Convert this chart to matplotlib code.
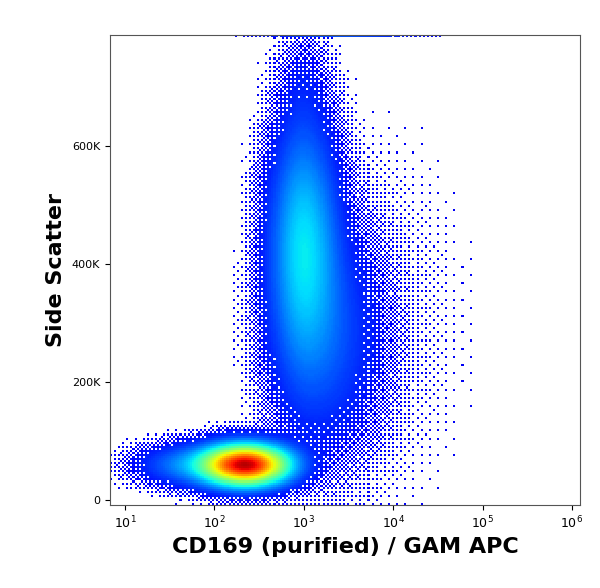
import numpy as np
import matplotlib
matplotlib.use("Agg")
import matplotlib.pyplot as plt
from matplotlib.colors import ListedColormap

# population parameters: (log10 x centre, y centre, log sd, y sd, weight)
pop_logx = [2.35, 3.0, 3.25, 1.8, 3.9, 3.0]
pop_y = [60e3, 430e3, 280e3, 60e3, 300e3, 700e3]
pop_sdx = [0.28, 0.22, 0.35, 0.35, 0.6, 0.15]
pop_sdy = [20e3, 120e3, 110e3, 20e3, 200e3, 60e3]
pop_w = [1.0, 0.17, 0.05, 0.1, 0.002, 0.01]

xticks = [1e1, 1e2, 1e3, 1e4, 1e5, 1e6]
xticklabels = [r"$10^{1}$", r"$10^{2}$", r"$10^{3}$", r"$10^{4}$", r"$10^{5}$", r"$10^{6}$"]
yticks = [0, 200e3, 400e3, 600e3]
yticklabels = ["0", "200K", "400K", "600K"]

nx, ny = 230, 230
lx = np.linspace(np.log10(6.8), 6.09, nx + 1)
ye = np.linspace(-8e3, 788e3, ny + 1)
lc = (lx[:-1] + lx[1:]) / 2
yc = (ye[:-1] + ye[1:]) / 2
LX, YY = np.meshgrid(lc, yc)
D = np.zeros_like(LX)
for a, b, sa, sb, w in zip(pop_logx, pop_y, pop_sdx, pop_sdy, pop_w):
    D += w * np.exp(-0.5 * ((LX - a) / sa) ** 2 - 0.5 * ((YY - b) / sb) ** 2)
# saturation band at top
D[-1:, :] += 0.05 * np.exp(-0.5 * ((lc - 3.4) / 0.5) ** 2)

bayer = np.array([[0, 32, 8, 40, 2, 34, 10, 42], [48, 16, 56, 24, 50, 18, 58, 26],
                  [12, 44, 4, 36, 14, 46, 6, 38], [60, 28, 52, 20, 62, 30, 54, 22],
                  [3, 35, 11, 43, 1, 33, 9, 41], [51, 19, 59, 27, 49, 17, 57, 25],
                  [15, 47, 7, 39, 13, 45, 5, 37], [63, 31, 55, 23, 61, 29, 53, 21]]) / 64.0
B = np.tile(bayer, (ny // 8 + 1, nx // 8 + 1))[:ny, :nx]
p = np.clip((np.log10(D + 1e-12) + 3.4) / 1.9, 0, 1) ** 1.7
show = p > B
v = np.clip(D / D.max(), 0, 1) ** 0.7
vals = np.where(show, v, np.nan)

cmap = ListedColormap(plt.cm.jet(np.linspace(0.1, 0.95, 256)))
fig = plt.figure(figsize=(6, 5.88), dpi=100)
ax = fig.add_axes([110 / 600, 1 - 505 / 588, 470 / 600, 470 / 588])
ax.pcolormesh(10 ** lx, ye, vals, cmap=cmap, vmin=0.0, vmax=1.0, shading="flat")
ax.set_xscale("log")
ax.set_xlim(10 ** lx[0], 10 ** lx[-1])
ax.set_ylim(ye[0], ye[-1])
ax.set_xticks(xticks)
ax.set_xticklabels(xticklabels, fontsize=9)
ax.set_yticks(yticks)
ax.set_yticklabels(yticklabels, fontsize=8)
ax.minorticks_off()
for s in ax.spines.values():
    s.set_color("#555555")
    s.set_linewidth(0.8)
ax.set_xlabel("CD169 (purified) / GAM APC", fontsize=16, fontweight="bold")
ax.set_ylabel("Side Scatter", fontsize=16, fontweight="bold")
fig.savefig("out.png")
